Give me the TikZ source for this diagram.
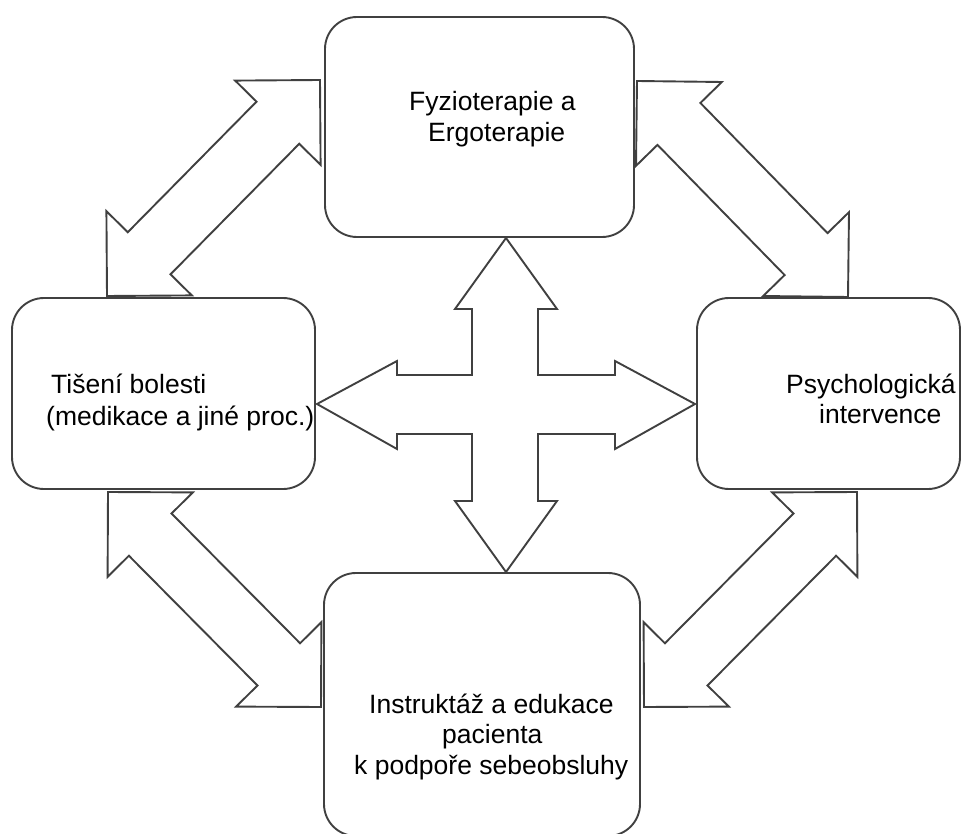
\documentclass[tikz,border=0pt]{standalone}
\usepackage{fontspec}
\setmainfont{Liberation Sans}
\usetikzlibrary{calc}
\definecolor{linegray}{HTML}{404040}
\tikzset{
  box/.style={draw=linegray, line width=1.9pt, rounded corners=32pt, fill=white, inner sep=0pt},
  blockarr/.style={draw=linegray, line width=1.9pt, fill=white, line join=miter},
  lbl/.style={anchor=base west, inner sep=0pt, font=\fontsize{26.5}{31}\selectfont, text=black},
}
\newcommand\dblarrow[2]{%
  \draw[blockarr] (#1)
    -- ($(#1)!60pt!(#2)!60pt!90:(#2)$)
    -- ($(#1)!60pt!(#2)!30pt!90:(#2)$)
    -- ($(#2)!60pt!(#1)!30pt!-90:(#1)$)
    -- ($(#2)!60pt!(#1)!60pt!-90:(#1)$)
    -- (#2)
    -- ($(#2)!60pt!(#1)!60pt!90:(#1)$)
    -- ($(#2)!60pt!(#1)!30pt!90:(#1)$)
    -- ($(#1)!60pt!(#2)!30pt!-90:(#2)$)
    -- ($(#1)!60pt!(#2)!60pt!-90:(#2)$)
    -- cycle;}
\begin{document}
\begin{tikzpicture}[x=1pt,y=-1pt]
\useasboundingbox (0,0) rectangle (961,834);
\clip (0,0) rectangle (961,834);

% boxes
\node[box, minimum width=309pt, minimum height=220pt] (top) at (479.5,127) {};
\node[box, minimum width=303pt, minimum height=191pt] (left) at (163.5,393.5) {};
\node[box, minimum width=263pt, minimum height=191pt] (right) at (828.5,393.5) {};
\node[box, minimum width=316pt, minimum height=263pt] (bottom) at (482,704.5) {};

% corner coordinates of the diagonal double arrows
\coordinate (tlA) at (320,80);
\coordinate (tlB) at (107,296);
\coordinate (trA) at (637,81);
\coordinate (trB) at (848,297);
\coordinate (blA) at (108,492);
\coordinate (blB) at (321,707);
\coordinate (brA) at (857,492);
\coordinate (brB) at (644,707);

\dblarrow{tlA}{tlB}
\dblarrow{trA}{trB}
\dblarrow{blA}{blB}
\dblarrow{brA}{brB}

% central four-way arrow
\coordinate (ct) at (506,238);
\coordinate (cb) at (506,572);
\coordinate (cl) at (317,404);
\coordinate (cr) at (695,404);
\draw[blockarr] (ct) -- (557,309) -- (538,309) -- (538,375) -- (615,375) -- (615,361)
  -- (cr) -- (615,449) -- (615,434) -- (538,434) -- (538,501) -- (557,501)
  -- (cb) -- (455,501) -- (472,501) -- (472,434) -- (397,434) -- (397,449)
  -- (cl) -- (397,361) -- (397,375) -- (472,375) -- (472,309) -- (455,309) -- cycle;

% texts
\node[lbl] (topA) at (409,111) {Fyzioterapie a};
\node[lbl] (topB) at (428,142) {Ergoterapie};
\node[lbl] (leftA) at (51,393) {Tišení bolesti};
\node[lbl] (leftB) at (46,425) {(medikace a jiné proc.)};
\node[lbl] (rightA) at (786,393) {Psychologická};
\node[lbl] (rightB) at (819,423) {intervence};
\node[lbl] (botA) at (369,713) {Instruktáž a edukace};
\node[lbl] (botB) at (442,743) {pacienta};
\node[lbl] (botC) at (354,774) {k podpoře sebeobsluhy};
\end{tikzpicture}
\end{document}
